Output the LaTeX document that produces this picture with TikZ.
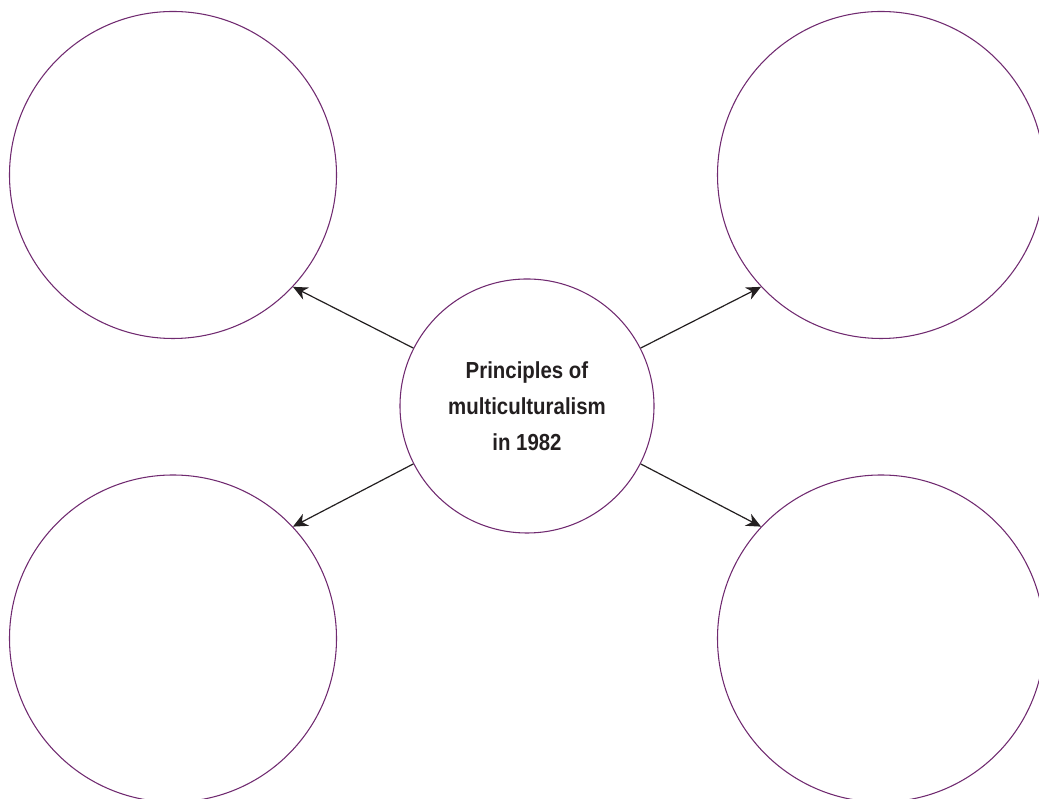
\documentclass[tikz,border=0pt]{standalone}
\usepackage{fontspec}
\newfontfamily\condfont[FakeStretch=0.88]{Liberation Sans}
\usetikzlibrary{arrows.meta}
\definecolor{ringpurple}{RGB}{112,42,112}
\definecolor{inkblack}{RGB}{35,31,32}
\tikzset{
  ring/.style={circle,draw=ringpurple,line width=0.8pt,inner sep=0pt},
  bigring/.style={ring,minimum size=245.25pt},
  link/.style={draw=inkblack,line width=0.9pt,-{Stealth[length=11pt,width=10pt,inset=3.5pt]}}
}
\begin{document}
\begin{tikzpicture}[x=0.75pt,y=0.75pt]
            \useasboundingbox (0,0) rectangle (1039,799);
            % Circles
            \node [bigring] (tl) at (173,624) {};
            \node [bigring] (tr) at (881,624) {};
            \node [bigring] (bl) at (173,160.5) {};
            \node [bigring] (br) at (881,160.5) {};
            \node [ring,minimum size=190.5pt,align=center,text=inkblack,
                   font=\condfont\bfseries\fontsize{17.4}{27}\selectfont] (mid) at (527,393)
                  {Principles of\\multiculturalism\\in 1982};

            % Arrows
            \draw [link] (mid.153) -- (tl.317);
            \draw [link] (mid.27) -- (tr.223);
            \draw [link] (mid.207) -- (bl.43);
            \draw [link] (mid.333) -- (br.137);
        \end{tikzpicture}
\end{document}
